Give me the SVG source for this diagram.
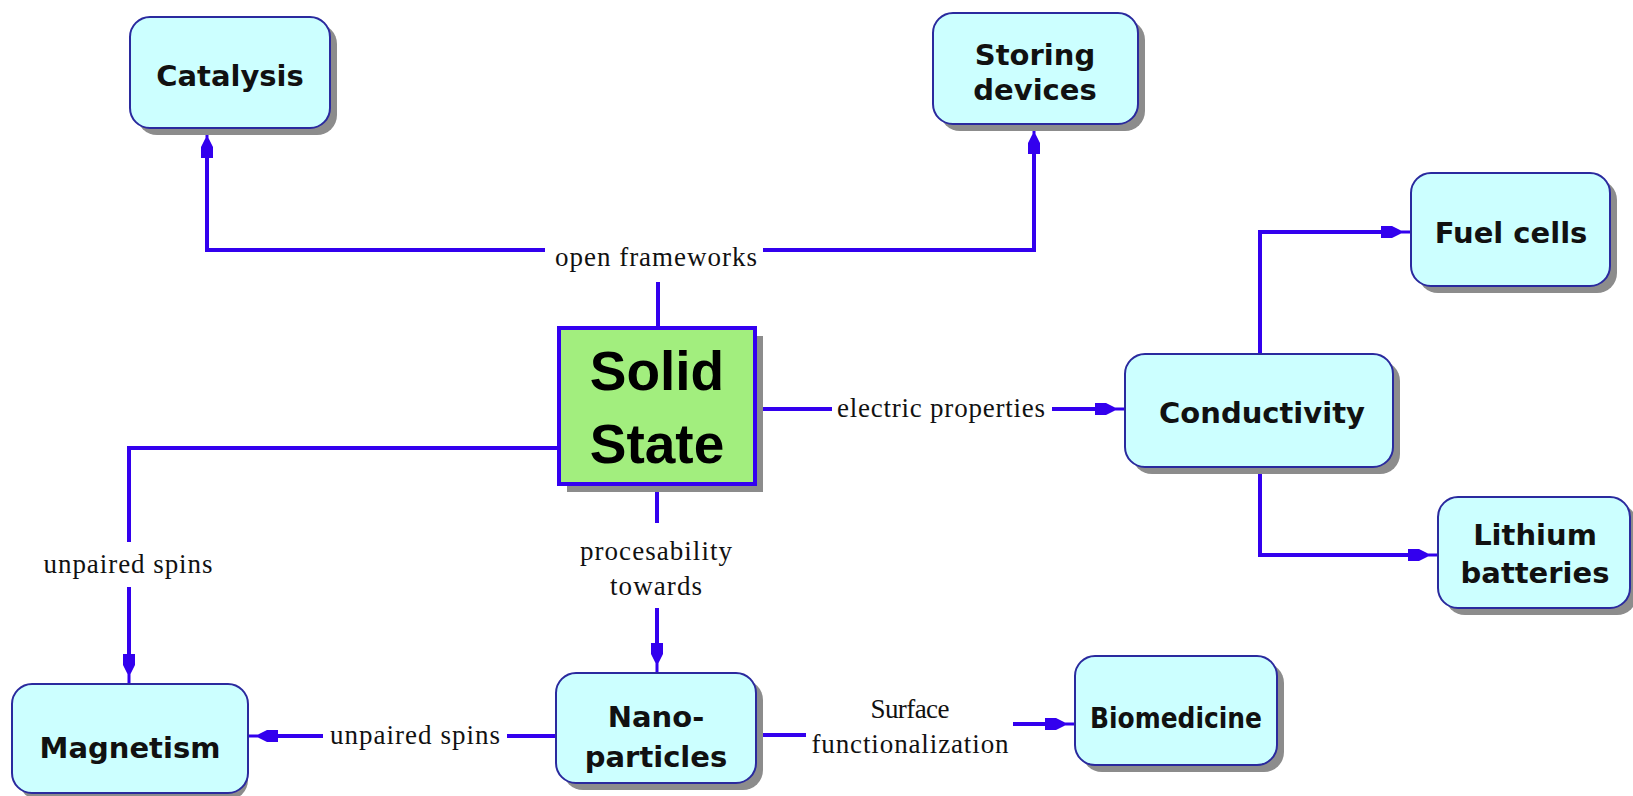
<svg xmlns="http://www.w3.org/2000/svg" width="1633" height="796" viewBox="0 0 1633 796">
<style>
.box{fill:#ccffff;stroke:#2a2a9e;stroke-width:2}
.shadow{fill:#8c8c8c}
.t{font-family:"DejaVu Sans",Verdana,sans-serif;font-weight:bold;font-size:29px;fill:#111;text-anchor:middle}
.big{font-family:"Liberation Sans",Arial,sans-serif;font-weight:bold;font-size:55px;fill:#000;text-anchor:middle}
.lbl{font-family:"Liberation Serif","Times New Roman",serif;font-size:27px;fill:#111;text-anchor:middle}
.c{fill:none;stroke:#3300ee;stroke-width:4}
</style>
<defs>
<marker id="ah" markerUnits="userSpaceOnUse" viewBox="0 0 30 14" markerWidth="30" markerHeight="14" refX="0" refY="7" orient="auto" overflow="visible">
<path d="M0,1 H11 L20,5.5 H30 V8.5 H20 L11,13 H0 Z" fill="#3300ee"/>
</marker>
</defs>
<rect width="1633" height="796" fill="#ffffff"/>

<g id="connectors">
<path class="c" d="M658,328 V282"/>
<path class="c" d="M545,250 H207 V158" marker-end="url(#ah)"/>
<path class="c" d="M763,250 H1034 V154" marker-end="url(#ah)"/>
<text class="lbl" x="656" y="266" textLength="202">open frameworks</text>

<path class="c" d="M755,409 H832"/>
<path class="c" d="M1052,409 H1095" marker-end="url(#ah)"/>
<text class="lbl" x="941" y="417" textLength="208">electric properties</text>

<path class="c" d="M1260,354 V232 H1381" marker-end="url(#ah)"/>
<path class="c" d="M1260,467 V555 H1408" marker-end="url(#ah)"/>

<path class="c" d="M559,448 H129 V542"/>
<path class="c" d="M129,587 V654" marker-end="url(#ah)"/>
<text class="lbl" x="128" y="573" textLength="169">unpaired spins</text>

<path class="c" d="M657,484 V523"/>
<path class="c" d="M657,608 V643" marker-end="url(#ah)"/>
<text class="lbl" x="656" y="560" textLength="152">procesability</text>
<text class="lbl" x="656" y="595" textLength="92">towards</text>

<path class="c" d="M556,736 H507"/>
<path class="c" d="M323,736 H278" marker-end="url(#ah)"/>
<text class="lbl" x="415" y="744" textLength="170">unpaired spins</text>

<path class="c" d="M756,735 H806"/>
<path class="c" d="M1013,724 H1045" marker-end="url(#ah)"/>
<text class="lbl" x="910" y="718" textLength="79">Surface</text>
<text class="lbl" x="910" y="753" textLength="197">functionalization</text>
</g>

<g id="catalysis">
<rect class="shadow" x="137" y="24" width="200" height="111" rx="20"/>
<rect class="box" x="130" y="17" width="200" height="111" rx="20"/>
<text class="t" x="230" y="86">Catalysis</text>
</g>

<g id="storing-devices">
<rect class="shadow" x="940" y="20" width="205" height="111" rx="20"/>
<rect class="box" x="933" y="13" width="205" height="111" rx="20"/>
<text class="t" x="1035" y="65">Storing</text>
<text class="t" x="1035" y="100">devices</text>
</g>

<g id="fuel-cells">
<rect class="shadow" x="1418" y="180" width="199" height="113" rx="20"/>
<rect class="box" x="1411" y="173" width="199" height="113" rx="20"/>
<text class="t" x="1511" y="243">Fuel cells</text>
</g>

<g id="conductivity">
<rect class="shadow" x="1132" y="361" width="268" height="113" rx="20"/>
<rect class="box" x="1125" y="354" width="268" height="113" rx="20"/>
<text class="t" x="1262" y="423">Conductivity</text>
</g>

<g id="lithium-batteries">
<rect class="shadow" x="1445" y="504" width="192" height="111" rx="20"/>
<rect class="box" x="1438" y="497" width="192" height="111" rx="20"/>
<text class="t" x="1535" y="545">Lithium</text>
<text class="t" x="1535" y="583">batteries</text>
</g>

<g id="solid-state">
<rect class="shadow" x="567" y="336" width="196" height="156"/>
<rect x="559" y="328" width="196" height="156" fill="#a2ee7e" stroke="#3300f0" stroke-width="4"/>
<text class="big" x="657" y="390">Solid</text>
<text class="big" x="657" y="463">State</text>
</g>

<g id="magnetism">
<rect class="shadow" x="19" y="691" width="229" height="109" rx="20"/>
<rect class="box" x="12" y="684" width="236" height="109" rx="20"/>
<text class="t" x="130" y="758">Magnetism</text>
</g>

<g id="nano-particles">
<rect class="shadow" x="563" y="680" width="200" height="110" rx="20"/>
<rect class="box" x="556" y="673" width="200" height="110" rx="20"/>
<text class="t" x="656" y="727">Nano-</text>
<text class="t" x="656" y="767">particles</text>
</g>

<g id="biomedicine">
<rect class="shadow" x="1082" y="663" width="202" height="109" rx="20"/>
<rect class="box" x="1075" y="656" width="202" height="109" rx="20"/>
<text class="t" x="1176" y="728" textLength="172" lengthAdjust="spacingAndGlyphs">Biomedicine</text>
</g>
</svg>
